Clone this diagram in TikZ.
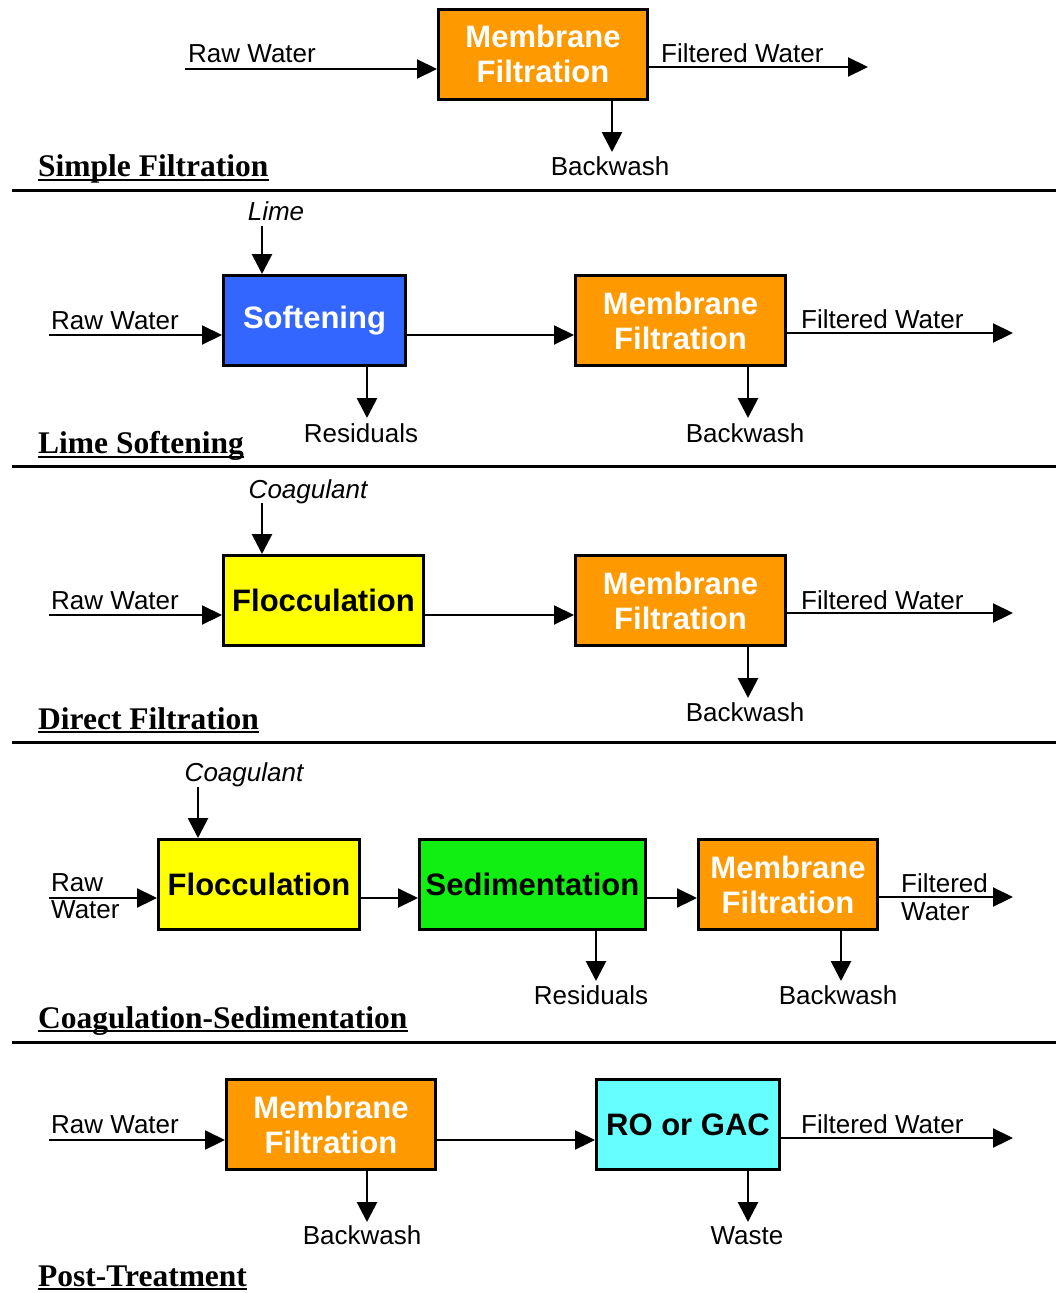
\documentclass[tikz,border=0pt]{standalone}
\usepackage{fontspec}
\setmainfont{Liberation Sans}
\newfontfamily\titlefont{Liberation Serif}
\usetikzlibrary{arrows.meta}
\definecolor{mforange}{HTML}{FF9900}
\definecolor{softblue}{HTML}{3366FF}
\definecolor{flocyellow}{HTML}{FFFF00}
\definecolor{sedgreen}{HTML}{11EE11}
\definecolor{rocyan}{HTML}{66FFFF}
\begin{document}
\begin{tikzpicture}[x=1pt,y=-1pt,
  proc/.style={draw=black,line width=3pt,inner sep=0pt,align=center,minimum height=90pt,font=\fontsize{31}{35}\selectfont\bfseries},
  mfbox/.style={proc,fill=mforange,text=white},
  lbl/.style={inner sep=0pt,font=\fontsize{26}{30}\selectfont},
  ilbl/.style={inner sep=0pt,font=\fontsize{26}{30}\selectfont\itshape},
  ttl/.style={inner sep=0pt,anchor=base west,font=\titlefont\bfseries\fontsize{31.5}{34}\selectfont},
  flow/.style={line width=2.2pt,-{Triangle[length=20pt,width=19pt]}},
  vflow/.style={line width=2.8pt,-{Triangle[length=20pt,width=20pt]}},
  sep/.style={line width=3pt},
  uline/.style={line width=1.8pt}]
\useasboundingbox (0,0) rectangle (1056,1293);
\fill[white] (0,0) rectangle (1056,1293);

% ---------------- Section 1: Simple Filtration
\node[mfbox,minimum width=209pt] (mf1) at (543,54) {Membrane\\Filtration};
\coordinate (rw1) at (185,69);
\coordinate (fw1) at (868,67);
\coordinate (bw1) at (612,152);
\node[lbl,anchor=base west] (rw1l) at (188,62) {Raw Water};
\node[lbl,anchor=base west] (fw1l) at (661,62) {Filtered Water};
\node[lbl,anchor=base] (bw1l) at (610,175) {Backwash};
\draw[flow] (rw1) -- (rw1 -| mf1.west);
\draw[flow] (mf1.east |- fw1) -- (fw1);
\draw[vflow] (mf1.south -| bw1) -- (bw1);
\node[ttl] (t1) at (38,176) {Simple Filtration};
\draw[uline] ([yshift=-4pt]t1.base west) -- ([yshift=-4pt]t1.base east);
\coordinate (s1a) at (12,190); \coordinate (s1b) at (1056,190);
\draw[sep] (s1a) -- (s1b);

% ---------------- Section 2: Lime Softening
\node[proc,fill=softblue,text=white,minimum width=182pt] (soft2) at (314.5,320.5) {Softening};
\node[mfbox,minimum width=210pt] (mf2) at (680.5,320.5) {Membrane\\Filtration};
\node[ilbl,anchor=base] (lime2l) at (276,220) {Lime};
\coordinate (lime2) at (262,226);
\draw[vflow] (lime2) -- (lime2 |- soft2.north);
\coordinate (rw2) at (49,335);
\node[lbl,anchor=base west] (rw2l) at (51,329) {Raw Water};
\draw[flow] (rw2) -- (rw2 -| soft2.west);
\draw[flow] (soft2.east |- rw2) -- (rw2 -| mf2.west);
\coordinate (fw2) at (1013,333);
\node[lbl,anchor=base west] (fw2l) at (801,328) {Filtered Water};
\draw[flow] (mf2.east |- fw2) -- (fw2);
\coordinate (res2) at (367,418);
\node[lbl,anchor=base] (res2l) at (361,442) {Residuals};
\draw[vflow] (soft2.south -| res2) -- (res2);
\coordinate (bw2) at (748,418);
\node[lbl,anchor=base] (bw2l) at (745,442) {Backwash};
\draw[vflow] (mf2.south -| bw2) -- (bw2);
\node[ttl] (t2) at (38,453) {Lime Softening};
\draw[uline] ([yshift=-4pt]t2.base west) -- ([yshift=-4pt]t2.base east);
\coordinate (s2a) at (12,466); \coordinate (s2b) at (1056,466);
\draw[sep] (s2a) -- (s2b);

% ---------------- Section 3: Direct Filtration
\node[proc,fill=flocyellow,text=black,minimum width=200pt] (floc3) at (323.5,600.5) {Flocculation};
\node[mfbox,minimum width=210pt] (mf3) at (680.5,600.5) {Membrane\\Filtration};
\node[ilbl,anchor=base] (coag3l) at (308,498) {Coagulant};
\coordinate (coag3) at (262,503);
\draw[vflow] (coag3) -- (coag3 |- floc3.north);
\coordinate (rw3) at (49,615);
\node[lbl,anchor=base west] (rw3l) at (51,609) {Raw Water};
\draw[flow] (rw3) -- (rw3 -| floc3.west);
\draw[flow] (floc3.east |- rw3) -- (rw3 -| mf3.west);
\coordinate (fw3) at (1013,613);
\node[lbl,anchor=base west] (fw3l) at (801,609) {Filtered Water};
\draw[flow] (mf3.east |- fw3) -- (fw3);
\coordinate (bw3) at (748,698);
\node[lbl,anchor=base] (bw3l) at (745,721) {Backwash};
\draw[vflow] (mf3.south -| bw3) -- (bw3);
\node[ttl] (t3) at (38,729) {Direct Filtration};
\draw[uline] ([yshift=-3pt]t3.base west) -- ([yshift=-3pt]t3.base east);
\coordinate (s3a) at (12,742); \coordinate (s3b) at (1056,742);
\draw[sep] (s3a) -- (s3b);

% ---------------- Section 4: Coagulation-Sedimentation
\node[proc,fill=flocyellow,text=black,minimum width=201pt] (floc4) at (259,884.5) {Flocculation};
\node[proc,fill=sedgreen,text=black,minimum width=226pt] (sed4) at (532.5,884.5) {Sedimentation};
\node[mfbox,minimum width=179pt] (mf4) at (788,884.5) {Membrane\\Filtration};
\node[ilbl,anchor=base] (coag4l) at (244,781) {Coagulant};
\coordinate (coag4) at (198,787);
\draw[vflow] (coag4) -- (coag4 |- floc4.north);
\coordinate (rw4) at (49,898);
\node[lbl,align=left,anchor=west,font=\fontsize{26}{27}\selectfont] (rw4l) at (51,896.5) {Raw\\Water};
\draw[flow] (rw4) -- (rw4 -| floc4.west);
\draw[flow] (floc4.east |- rw4) -- (rw4 -| sed4.west);
\draw[flow] (sed4.east |- rw4) -- (rw4 -| mf4.west);
\coordinate (fw4) at (1013,897);
\node[lbl,align=left,anchor=west,font=\fontsize{26}{28}\selectfont] (fw4l) at (901,897) {Filtered\\Water};
\draw[flow] (mf4.east |- fw4) -- (fw4);
\coordinate (res4) at (596,981);
\node[lbl,anchor=base] (res4l) at (591,1004) {Residuals};
\draw[vflow] (sed4.south -| res4) -- (res4);
\coordinate (bw4) at (841,981);
\node[lbl,anchor=base] (bw4l) at (838,1004) {Backwash};
\draw[vflow] (mf4.south -| bw4) -- (bw4);
\node[ttl] (t4) at (38,1028) {Coagulation-Sedimentation};
\draw[uline] ([yshift=-3pt]t4.base west) -- ([yshift=-3pt]t4.base east);
\coordinate (s4a) at (12,1042); \coordinate (s4b) at (1056,1042);
\draw[sep] (s4a) -- (s4b);

% ---------------- Section 5: Post-Treatment
\node[mfbox,minimum width=209pt] (mf5) at (331,1124.5) {Membrane\\Filtration};
\node[proc,fill=rocyan,text=black,minimum width=183pt] (ro5) at (688,1124.5) {RO or GAC};
\coordinate (rw5) at (49,1140);
\node[lbl,anchor=base west] (rw5l) at (51,1133) {Raw Water};
\draw[flow] (rw5) -- (rw5 -| mf5.west);
\draw[flow] (mf5.east |- rw5) -- (rw5 -| ro5.west);
\coordinate (fw5) at (1013,1138);
\node[lbl,anchor=base west] (fw5l) at (801,1133) {Filtered Water};
\draw[flow] (ro5.east |- fw5) -- (fw5);
\coordinate (bw5) at (367,1222);
\node[lbl,anchor=base] (bw5l) at (362,1244) {Backwash};
\draw[vflow] (mf5.south -| bw5) -- (bw5);
\coordinate (ws5) at (748,1222);
\node[lbl,anchor=base] (ws5l) at (747,1244) {Waste};
\draw[vflow] (ro5.south -| ws5) -- (ws5);
\node[ttl] (t5) at (38,1286) {Post-Treatment};
\draw[uline] ([yshift=-3pt]t5.base west) -- ([yshift=-3pt]t5.base east);
\end{tikzpicture}
\end{document}
